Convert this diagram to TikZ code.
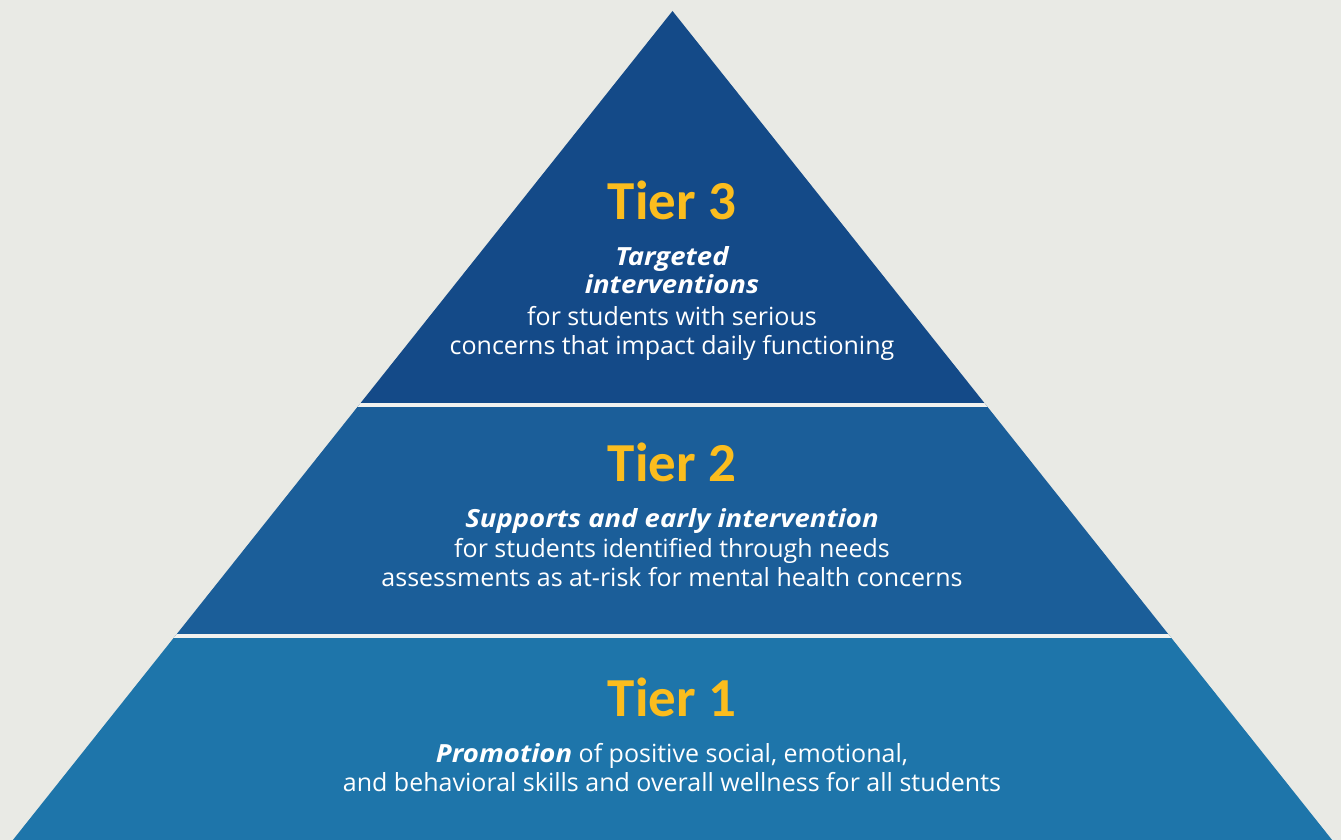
\documentclass[tikz,border=0pt]{standalone}
\usepackage{fontspec}
\setmainfont{Open Sans}
\newfontfamily\titlefont{Carlito}
\newfontfamily\emphfont[FakeStretch=1.1]{Open Sans}
\definecolor{bgc}{RGB}{233,234,229}
\definecolor{gapc}{RGB}{242,242,239}
\definecolor{tierthree}{RGB}{20,74,136}
\definecolor{tiertwo}{RGB}{27,94,153}
\definecolor{tierone}{RGB}{30,117,170}
\definecolor{tieryellow}{RGB}{251,189,30}
\newcommand{\tieremph}[1]{{\emphfont\bfseries\itshape #1}}
\tikzset{
  tiertitle/.style={anchor=base, text=tieryellow, inner sep=0pt,
    font=\titlefont\fontsize{55}{60}\selectfont\bfseries},
  tierhead/.style={anchor=base, text=white, inner sep=0pt,
    font=\emphfont\fontsize{25}{30}\selectfont\bfseries\itshape},
  tierbody/.style={anchor=base, text=white, inner sep=0pt,
    font=\fontsize{25}{30}\selectfont},
  gapline/.style={draw=gapc, line width=4.5pt}
}
\begin{document}
\begin{tikzpicture}[x=1pt,y=-1pt]
  % canvas
  \fill[bgc] (0,0) rectangle (1341,840);
  \useasboundingbox (0,0) rectangle (1341,840);
  \begin{scope}
    \clip (0,0) rectangle (1341,840);
    % pyramid outline: apex (672.5,11), sides slope ~0.796 px per px
    \coordinate (apex) at (672.5,11);
    \coordinate (bl) at (-7,865);
    \coordinate (br) at (1352,865);
    \begin{scope}
      \clip (apex) -- (br) -- (bl) -- cycle;
      \fill[tierthree] (0,0) rectangle (1341,405);
      \fill[tiertwo] (0,405) rectangle (1341,636);
      \fill[tierone] (0,636) rectangle (1341,870);
      \draw[gapline] (0,405) -- (1341,405);
      \draw[gapline] (0,636) -- (1341,636);
    \end{scope}
  \end{scope}

  % Tier 3
  \node[tiertitle] (t3) at (672,219) {Tier 3};
  \node[tierhead] (t3a) at (672,265) {Targeted};
  \node[tierhead] (t3b) at (672,293) {interventions};
  \node[tierbody] (t3c) at (672,325) {for students with serious};
  \node[tierbody] (t3d) at (672,354) {concerns that impact daily functioning};

  % Tier 2
  \node[tiertitle] (t2) at (672,481) {Tier 2};
  \node[tierhead] (t2a) at (672,527) {Supports and early intervention};
  \node[tierbody] (t2b) at (672,557) {for students identified through needs};
  \node[tierbody] (t2c) at (672,586) {assessments as at-risk for mental health concerns};

  % Tier 1
  \node[tiertitle] (t1) at (672,716) {Tier 1};
  \node[tierbody] (t1a) at (672,762) {\tieremph{Promotion} of positive social, emotional,};
  \node[tierbody] (t1b) at (672,791) {and behavioral skills and overall wellness for all students};
\end{tikzpicture}
\end{document}
